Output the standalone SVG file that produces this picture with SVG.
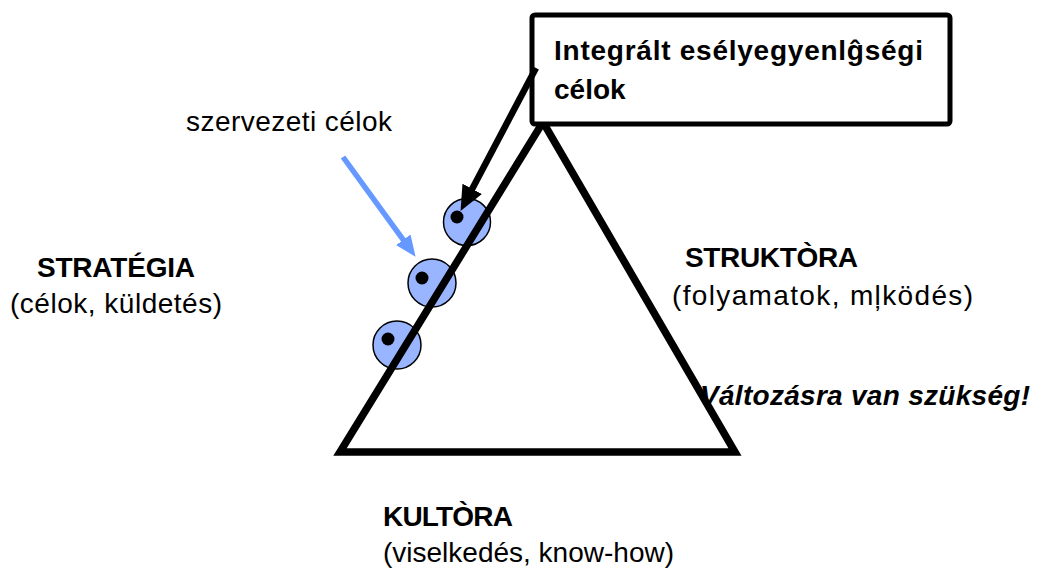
<svg xmlns="http://www.w3.org/2000/svg" width="1038" height="571" viewBox="0 0 1038 571">
<defs>
<style>
text{font-family:"Liberation Sans",Arial,Helvetica,sans-serif;font-size:28px;fill:#000}
.b{font-weight:bold}
.bi{font-weight:bold;font-style:italic}
.goal{fill:#99b5ff;stroke:#000;stroke-width:1.5}
.dot{fill:#000}
</style>
<marker id="headBlack" markerUnits="userSpaceOnUse" markerWidth="26" markerHeight="24" refX="12" refY="11" orient="auto">
<path d="M0,0 L25,11 L0,22 Z" fill="#000"/>
</marker>
<marker id="headBlue" markerUnits="userSpaceOnUse" markerWidth="22" markerHeight="20" refX="10" refY="9" orient="auto">
<path d="M0,0 L21,9 L0,18 Z" fill="#6699ff"/>
</marker>
</defs>
<rect width="1038" height="571" fill="#fff"/>

<g id="goals">
<g id="goal1"><circle class="goal" cx="467" cy="222" r="23.5"/><circle class="dot" cx="457" cy="217" r="6.5"/></g>
<g id="goal2"><circle class="goal" cx="432" cy="283" r="24"/><circle class="dot" cx="422" cy="278" r="6.5"/></g>
<g id="goal3"><circle class="goal" cx="397" cy="345" r="24"/><circle class="dot" cx="388" cy="339" r="6.5"/></g>
</g>

<g id="triangle">
<polygon points="340,452 543,122 735,452" fill="none" stroke="#000" stroke-width="7.5" stroke-linejoin="miter"/>
</g>

<g id="box">
<rect x="532" y="15" width="418" height="109" rx="3" fill="#fff" stroke="#000" stroke-width="5"/>
<text class="b" x="554" y="60" textLength="369" lengthAdjust="spacing">Integrált esélyegyenlĝségi</text>
<text class="b" x="554" y="99">célok</text>
</g>

<g id="connectors">
<line x1="536" y1="68" x2="466.6" y2="199.4" stroke="#000" stroke-width="6.5" marker-end="url(#headBlack)"/>
<line x1="343" y1="157" x2="409.1" y2="247.9" stroke="#6699ff" stroke-width="5.5" marker-end="url(#headBlue)"/>
</g>

<g id="labels">
<text x="186" y="131" textLength="206" lengthAdjust="spacing">szervezeti célok</text>
<g id="strategia">
<text class="b" x="37" y="277" textLength="158" lengthAdjust="spacing">STRATÉGIA</text>
<text x="10" y="313" textLength="212" lengthAdjust="spacing">(célok, küldetés)</text>
</g>
<g id="struktura">
<text class="b" x="685" y="267" textLength="173" lengthAdjust="spacing">STRUKTÒRA</text>
<text x="672" y="305" textLength="301" lengthAdjust="spacing">(folyamatok, mļködés)</text>
</g>
<text class="bi" x="700" y="405" textLength="330" lengthAdjust="spacing">Változásra van szükség!</text>
<g id="kultura">
<text class="b" x="383" y="526" textLength="130" lengthAdjust="spacing">KULTÒRA</text>
<text x="383" y="562">(viselkedés, know-how)</text>
</g>
</g>
</svg>
